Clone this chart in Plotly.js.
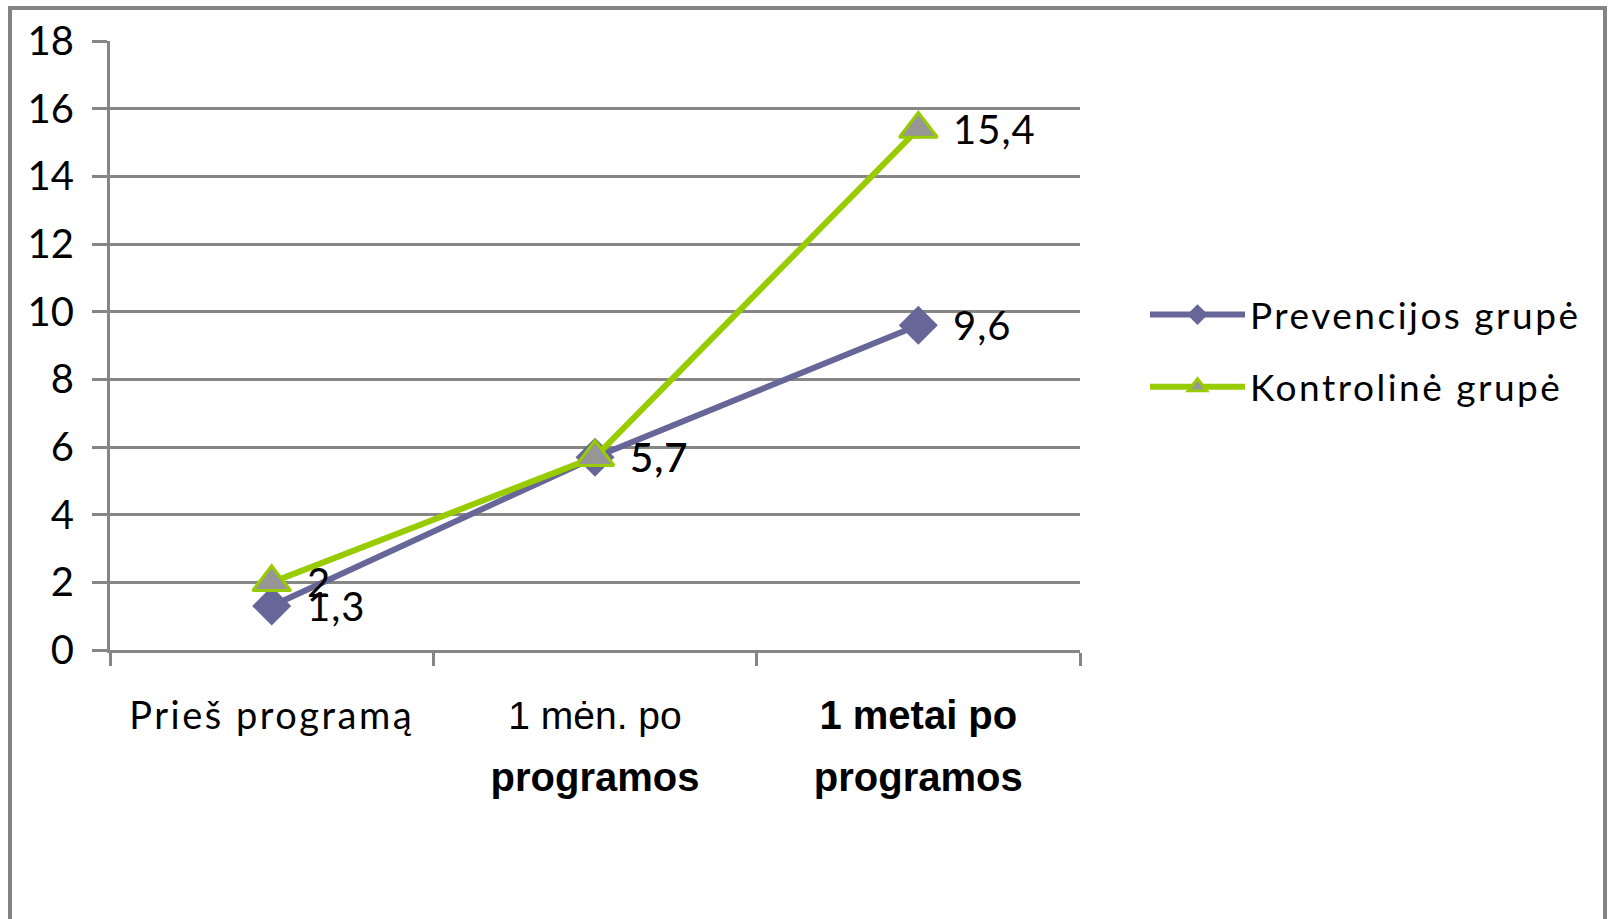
<!DOCTYPE html>
<html>
<head>
<meta charset="utf-8">
<script src="https://cdn.plot.ly/plotly-3.0.1.min.js"></script>
<style>
  html, body { margin: 0; padding: 0; background: #ffffff; }
  #chart { width: 1608px; height: 919px; }
</style>
</head>
<body>
<div id="chart"></div>
<script>
// Survey periods (x categories)
const categories = ['Prieš programą', '1 mėn. po programos', '1 metai po programos'];

// Tick label markup for each period
const tickLabels = [
  "<span style='font-family:Lato;font-size:38px;letter-spacing:2.5px'>Prieš programą</span>",
  "<span style='font-family:Liberation Sans;font-size:39px'>1 mėn. po</span><br><span style='font-family:Liberation Sans;font-weight:bold;font-size:40px'>programos</span>",
  "<span style='font-family:Liberation Sans;font-weight:bold;font-size:40px'>1 metai po</span><br><span style='font-family:Liberation Sans;font-weight:bold;font-size:40px'>programos</span>"
];

// Series
const seriesNames = ['Prevencijos grupė', 'Kontrolinė grupė'];
const prevencijos = [1.3, 5.7, 9.6];
const kontroline = [2, 5.7, 15.4];

const purple = '#666699';
const green = '#99CC00';
const gridGrey = '#868686';

const fmt = v => String(v).replace('.', ',');
const spaced = s => "<span style='letter-spacing:2.5px'>" + s + "</span>";

const traces = [
  {
    x: categories, y: prevencijos, name: spaced(seriesNames[0]),
    type: 'scatter', mode: 'lines+markers',
    legendgroup: 'a',
    line: { color: purple, width: 6 },
    marker: { symbol: 'diamond', size: 30, color: purple, line: { width: 0 } },
    hoverinfo: 'skip'
  },
  {
    x: categories, y: kontroline, name: spaced(seriesNames[1]),
    type: 'scatter', mode: 'lines+markers',
    legendgroup: 'b',
    line: { color: green, width: 6 },
    marker: { symbol: 'triangle-up', size: 33, color: '#969696', line: { color: green, width: 3 } },
    hoverinfo: 'skip'
  }
];

// Value labels beside each point
const annotations = [];
[prevencijos, kontroline].forEach(vals => {
  vals.forEach((v, i) => {
    annotations.push({
      x: categories[i], y: v, xref: 'x', yref: 'y',
      text: "<span style='letter-spacing:1px'>" + fmt(v) + "</span>", showarrow: false,
      xanchor: 'left', yanchor: 'middle', xshift: 33,
      font: { family: 'Lato', size: 40, color: '#000000' }
    });
  });
});

const plotLeft = 110, plotRight = 1080, plotTop = 41, plotBottom = 650;
const pw = plotRight - plotLeft, ph = plotBottom - plotTop;

const layout = {
  width: 1608, height: 919,
  margin: { l: plotLeft, r: 1608 - plotRight, t: plotTop, b: 919 - plotBottom, pad: 0 },
  paper_bgcolor: '#ffffff', plot_bgcolor: '#ffffff',
  showlegend: true,
  legend: {
    x: (1145 - plotLeft) / pw, y: (plotBottom - 351) / ph,
    xanchor: 'left', yanchor: 'middle',
    font: { family: 'Lato', size: 37, color: '#000000' },
    itemwidth: 95,
    traceorder: 'grouped', tracegroupgap: 21,
    bgcolor: 'rgba(0,0,0,0)', borderwidth: 0
  },
  xaxis: {
    type: 'category',
    range: [-0.5, 2.5],
    tickmode: 'array', tickvals: categories, ticktext: tickLabels,
    tickson: 'boundaries',
    ticks: 'outside', ticklen: 13, tickwidth: 3, tickcolor: gridGrey,
    showline: true, linecolor: gridGrey, linewidth: 3,
    showgrid: false, zeroline: false,
    tickfont: { family: 'Liberation Sans', size: 47, color: '#000000' },
    ticklabelstandoff: 20,
    fixedrange: true
  },
  yaxis: {
    range: [0, 18], dtick: 2, tick0: 0,
    ticks: 'outside', ticklen: 15, tickwidth: 3, tickcolor: gridGrey,
    showline: true, linecolor: gridGrey, linewidth: 3,
    showgrid: true, gridcolor: gridGrey, gridwidth: 3,
    zeroline: false,
    tickfont: { family: 'Lato', size: 40, color: '#000000' },
    ticklabelstandoff: 10,
    fixedrange: true
  },
  annotations: annotations,
  shapes: [{
    type: 'rect', xref: 'paper', yref: 'paper', layer: 'below',
    x0: (10 - plotLeft) / pw, x1: (1605 - plotLeft) / pw,
    y0: (plotBottom - 960) / ph, y1: (plotBottom - 8) / ph,
    line: { color: '#848484', width: 4 }, fillcolor: 'rgba(0,0,0,0)'
  }]
};

Plotly.newPlot('chart', traces, layout, { displayModeBar: false, staticPlot: true });
</script>
</body>
</html>
